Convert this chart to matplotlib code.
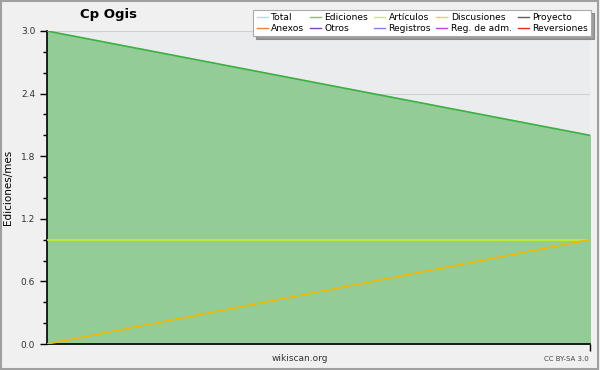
import matplotlib.pyplot as plt
from matplotlib.lines import Line2D

# data
x = [0, 1]
ediciones = [3.0, 2.0]
articulos = [1.0, 1.0]
discusiones = [0.0, 1.0]

yticks = [0.0, 0.6, 1.2, 1.8, 2.4, 3.0]
legend_labels = ['Total', 'Anexos', 'Ediciones', 'Otros', 'Artículos',
                 'Registros', 'Discusiones', 'Reg. de adm.', 'Proyecto', 'Reversiones']
legend_colors = ['#a8e4e0', '#f08040', '#80c080', '#8040c0', '#c8f040',
                 '#8080f0', '#f0d040', '#c040e0', '#606060', '#e03030']

plt.rcParams['font.family'] = 'DejaVu Sans'

fig = plt.figure(figsize=(6, 3.7), dpi=100, facecolor='#f0f0f0')
ax = fig.add_axes([47 / 600, 26 / 370, 543 / 600, 313 / 370])
ax.set_facecolor('#ebecee')

# filled area under Ediciones
ax.fill_between(x, 0, ediciones, color='#93cc97', zorder=2)
ax.plot(x, ediciones, color='#3cb043', lw=1.2, zorder=3)
ax.plot(x, articulos, color='#c8f020', lw=1.2, zorder=3)
ax.plot(x, discusiones, color='#f0b800', lw=1.2, zorder=3)

ax.set_xlim(0, 1)
ax.set_ylim(0, 3.0)
ax.set_yticks(yticks)
ax.set_yticklabels([f'{v:.1f}' for v in yticks], fontsize=6.5, color='#333333')
ax.set_yticks([0.2, 0.4, 0.8, 1.0, 1.4, 1.6, 2.0, 2.2, 2.6, 2.8], minor=True)
ax.set_xticks([1])
ax.set_xticklabels([])
ax.tick_params(axis='y', which='major', length=5, width=1)
ax.tick_params(axis='y', which='minor', length=3, width=1)
ax.tick_params(axis='x', length=5, width=1)
ax.grid(axis='y', color='#a8b0a8', lw=0.8, zorder=2.5, alpha=0.45)
for s in ['top', 'right']:
    ax.spines[s].set_visible(False)
ax.spines['left'].set_linewidth(1.2)
ax.spines['bottom'].set_linewidth(1.2)

ax.set_ylabel('Ediciones/mes', fontsize=7.5)
ax.yaxis.set_label_coords(-0.062, 0.5)
fig.text(0.18, 0.96, 'Cp Ogis', fontsize=9.5, fontweight='bold', ha='center', va='center')
fig.text(0.5, 0.03, 'wikiscan.org', fontsize=6.5, ha='center', va='center', color='#333333')
fig.text(0.982, 0.03, 'CC BY-SA 3.0', fontsize=5, ha='right', va='center', color='#444444')

handles = [Line2D([], [], color=c, lw=1) for c in legend_colors]
leg = fig.legend(handles, legend_labels, ncol=5, loc='upper right',
                 bbox_to_anchor=(0.993, 0.985), fontsize=6.6, frameon=True,
                 fancybox=False, shadow=True, handlelength=1.2, handletextpad=0.4,
                 columnspacing=0.6, labelspacing=0.15, borderpad=0.35)
leg.get_frame().set_edgecolor('#aaaaaa')
leg.get_frame().set_linewidth(0.8)

# outer border
fig.patches.append(plt.Rectangle((0.002, 0.003), 0.995, 0.993, transform=fig.transFigure,
                                 fill=False, edgecolor='#a0a0a0', lw=1.5))

fig.savefig('out.png', dpi=100, facecolor=fig.get_facecolor())
